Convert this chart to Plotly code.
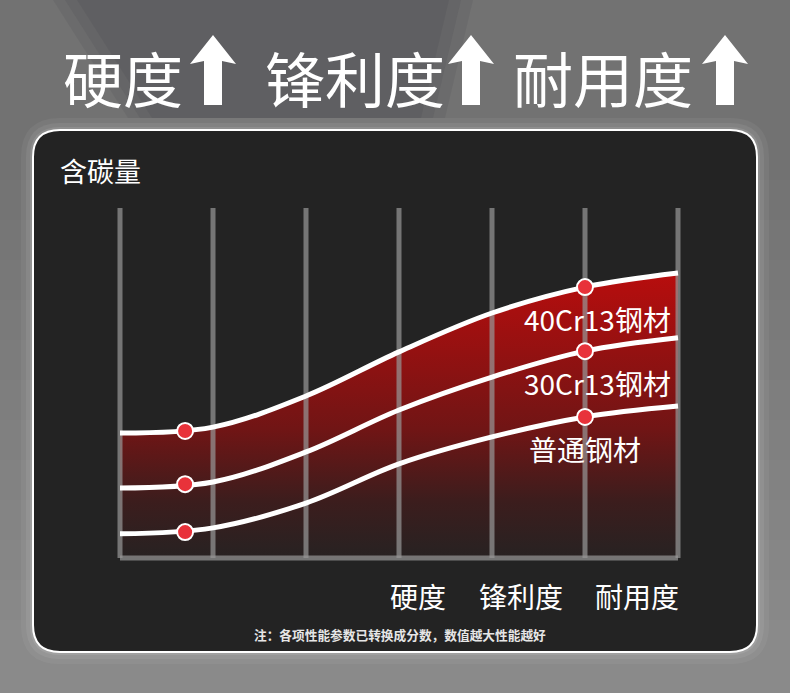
import plotly.graph_objects as go

W, H = 790, 693
FONT = "Noto Sans CJK SC"

# ---- data (carbon score, 0-100 on the grid height) ----
metric_labels = ["硬度", "锋利度", "耐用度"]
series_names = ["40Cr13钢材", "30Cr13钢材", "普通钢材"]
grid_x = [0, 1, 2, 3, 4, 5, 6]
carbon_40cr13 = [35.7, 37.4, 46.3, 58.9, 70.0, 77.4, 81.4]
carbon_30cr13 = [20.0, 21.7, 30.3, 42.3, 51.7, 59.1, 62.9]
carbon_common = [6.9, 8.6, 15.7, 26.9, 34.6, 40.3, 43.4]
marker_x = [0.7, 5]
marker_40cr13 = [36.3, 77.4]
marker_30cr13 = [21.1, 59.1]
marker_common = [7.4, 40.3]
grid_top = 100


def X(px):
    return px / W


def Y(py):
    return 1 - py / H


def rrect(x0, y0, x1, y1, r):
    return (f"M {X(x0 + r)},{Y(y0)} L {X(x1 - r)},{Y(y0)} "
            f"Q {X(x1)},{Y(y0)} {X(x1)},{Y(y0 + r)} L {X(x1)},{Y(y1 - r)} "
            f"Q {X(x1)},{Y(y1)} {X(x1 - r)},{Y(y1)} L {X(x0 + r)},{Y(y1)} "
            f"Q {X(x0)},{Y(y1)} {X(x0)},{Y(y1 - r)} L {X(x0)},{Y(y0 + r)} "
            f"Q {X(x0)},{Y(y0)} {X(x0 + r)},{Y(y0)} Z")


def arrow(cx):
    pts = [(cx, 35), (cx + 23, 64), (cx + 9, 61), (cx + 9, 105),
           (cx - 9, 105), (cx - 9, 61), (cx - 23, 64)]
    return "M " + " L ".join(f"{X(a)},{Y(b)}" for a, b in pts) + " Z"


fig = go.Figure()

# red gradient area under the top curve
fig.add_trace(go.Scatter(
    x=grid_x, y=carbon_40cr13, mode="lines", line=dict(width=0, shape="spline"),
    fill="tozeroy",
    fillgradient=dict(type="vertical", start=0, stop=max(carbon_40cr13),
                      colorscale=[[0, "#272222"], [0.2, "#3c1d1d"],
                                  [0.45, "#701515"], [1, "#b80d0d"]]),
    hoverinfo="skip"))

# grid lines drawn over the fill
gx, gy = [], []
for g in grid_x:
    gx += [g, g, None]
    gy += [0, grid_top, None]
gx += [grid_x[0], grid_x[-1]]
gy += [0, 0]
fig.add_trace(go.Scatter(x=gx, y=gy, mode="lines",
                         line=dict(color="rgba(150,150,150,0.72)", width=5),
                         hoverinfo="skip"))

series = [carbon_40cr13, carbon_30cr13, carbon_common]
markers = [marker_40cr13, marker_30cr13, marker_common]
for name, ys, my in zip(series_names, series, markers):
    fig.add_trace(go.Scatter(x=grid_x, y=ys, mode="lines", name=name,
                             line=dict(color="white", width=5, shape="spline",
                                       smoothing=1)))
    fig.add_trace(go.Scatter(x=marker_x, y=my, mode="markers", name=name,
                             marker=dict(size=16, color="#e8323a",
                                         line=dict(color="white", width=2))))

shapes = []
# background brightening toward the bottom
for i in range(12):
    shapes.append(dict(type="rect", xref="paper", yref="paper", layer="below",
                       x0=0, x1=1, y0=0, y1=Y(180 + i * 40),
                       fillcolor="rgba(255,255,255,0.018)", line_width=0))
# darker spotlight cone at the top
for k in [0, 12, 24]:
    pts = [(53 + k, 0), (473 - k, 0), (445 - k, 118), (128 + k, 118)]
    shapes.append(dict(type="path", xref="paper", yref="paper", layer="below",
                       path="M " + " L ".join(f"{X(a_)},{Y(b_)}" for a_, b_ in pts) + " Z",
                       fillcolor="rgba(40,42,55,0.09)", line_width=0))
# glow and panel
for d, a in [(12, 0.05), (7, 0.07), (3, 0.1)]:
    shapes.append(dict(type="path", xref="paper", yref="paper", layer="below",
                       path=rrect(33 - d, 130 - d, 757 + d, 652 + d, 27 + d),
                       fillcolor=f"rgba(255,255,255,{a})", line_width=0))
shapes.append(dict(type="path", xref="paper", yref="paper", layer="below",
                   path=rrect(33, 130, 757, 652, 27),
                   fillcolor="#232323", line=dict(color="white", width=2)))
for cx in [213, 471, 725]:
    shapes.append(dict(type="path", xref="paper", yref="paper", layer="above",
                       path=arrow(cx), fillcolor="white", line_width=0))

annotations = []
for lab, cx in zip(metric_labels, [123, 355, 603]):
    annotations.append(dict(text=lab, x=X(cx), y=Y(76), xref="paper", yref="paper",
                            showarrow=False, xanchor="center", yanchor="middle",
                            font=dict(family=FONT, size=60, color="white")))
for lab, cx in zip(metric_labels, [418, 521, 637]):
    annotations.append(dict(text=lab, x=X(cx), y=Y(596), xref="paper", yref="paper",
                            showarrow=False, xanchor="center", yanchor="middle",
                            font=dict(family=FONT, size=28, color="white")))
annotations.append(dict(text="含碳量", x=X(101), y=Y(170), xref="paper", yref="paper",
                        showarrow=False, xanchor="center", yanchor="middle",
                        font=dict(family=FONT, size=27, color="white")))
annotations.append(dict(text="<b>注：各项性能参数已转换成分数，数值越大性能越好</b>",
                        x=X(400), y=Y(634), xref="paper", yref="paper",
                        showarrow=False, xanchor="center", yanchor="middle",
                        font=dict(family=FONT, size=12.7, color="#e6e6e6")))
for name, my, xs in zip(series_names, markers, [12, 12, 0]):
    annotations.append(dict(text=name, x=marker_x[-1], y=my[-1],
                            xref="x", yref="y", showarrow=False, xshift=xs, yshift=-32,
                            xanchor="center", yanchor="middle",
                            font=dict(family=FONT, size=28, color="white")))

# axes: px(x) = 120 + 93*x, py(v) = 558 - 3.5*v
fig.update_xaxes(visible=False, range=[-0.05, 6.05],
                 domain=[X(120 - 0.05 * 93), X(678 + 0.05 * 93)])
fig.update_yaxes(visible=False, range=[-2, 101],
                 domain=[Y(558 + 2 * 3.5), Y(558 - 101 * 3.5)])
fig.update_layout(width=W, height=H, margin=dict(l=0, r=0, t=0, b=0),
                  paper_bgcolor="#727272", plot_bgcolor="rgba(0,0,0,0)",
                  showlegend=False, shapes=shapes, annotations=annotations,
                  font=dict(family=FONT))
fig.write_html("out.html", config={"displayModeBar": False},
               post_script="document.body.style.margin='0';")
